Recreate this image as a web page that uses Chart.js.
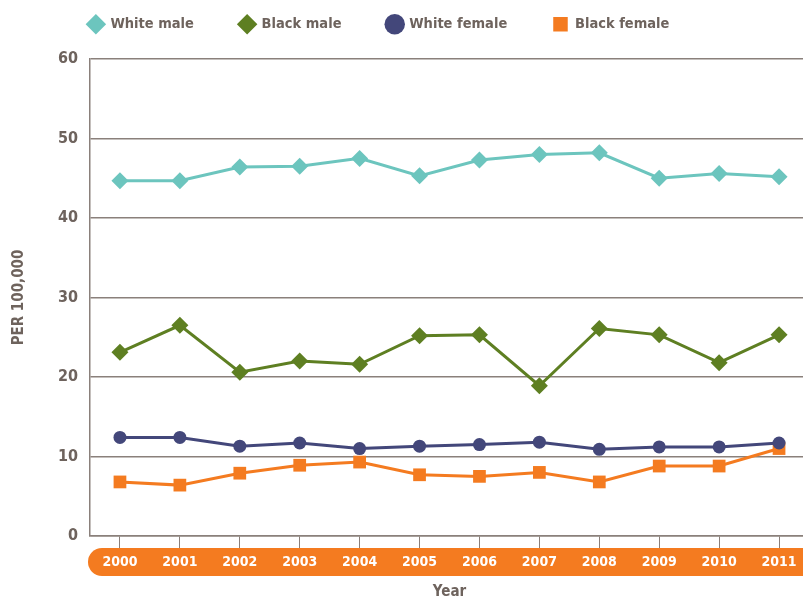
<!DOCTYPE html>
<html>
<head>
<meta charset="utf-8">
<script src="https://cdn.jsdelivr.net/npm/chart.js@4"></script>
<style>
  html, body { margin: 0; padding: 0; background: #fff; overflow: hidden; }
  #wrap { width: 818px; height: 599px; }
</style>
</head>
<body>
<div id="wrap"><canvas id="toile"></canvas></div>
<script>
const years = ['2000','2001','2002','2003','2004','2005','2006','2007','2008','2009','2010','2011']
const whiteMale   = [44.7, 44.7, 46.4, 46.5, 47.5, 45.3, 47.3, 48.0, 48.2, 45.0, 45.6, 45.2]
const blackMale   = [23.1, 26.5, 20.6, 22.0, 21.6, 25.2, 25.3, 18.9, 26.1, 25.3, 21.8, 25.3]
const whiteFemale = [12.4, 12.4, 11.3, 11.7, 11.0, 11.3, 11.5, 11.8, 10.9, 11.2, 11.2, 11.7]
const blackFemale = [6.8, 6.4, 7.9, 8.9, 9.3, 7.7, 7.5, 8.0, 6.8, 8.8, 8.8, 11.0]
const yTicks = [0, 10, 20, 30, 40, 50, 60]

const fontFam = "'Liberation Sans Narrow', 'DejaVu Sans Condensed', 'Liberation Sans', sans-serif"
const textCol = '#6e635d'
const gridCol = '#8a807b'

function serie(label, data, color, style, radius) {
  return {
    label: label,
    data: data,
    borderColor: color,
    backgroundColor: color,
    borderWidth: 3,
    pointStyle: style,
    pointRadius: radius,
    pointHoverRadius: radius,
    pointBorderWidth: 0,
    pointBackgroundColor: color,
    tension: 0
  }
}

// orange rounded band behind the year labels
const bandPlugin = {
  id: 'band',
  beforeDraw(chart) {
    const c = chart.ctx
    const x0 = chart.chartArea.left - 2
    const y0 = chart.chartArea.bottom + 12
    c.save()
    c.fillStyle = '#f47b20'
    c.beginPath()
    c.roundRect(x0, y0, chart.width - x0 + 20, 28, 14)
    c.fill()
    c.restore()
  }
}

// legend: fixed height so the plot starts lower, and shifted left
const legendFix = {
  id: 'legendFix',
  beforeLayout(chart) {
    const lg = chart.legend
    if (lg && !lg._patched) {
      const fit = lg.fit.bind(lg)
      lg.fit = function () {
        fit()
        this.height = 88
      }
      lg._patched = true
    }
  },
  afterLayout(chart) {
    chart.legend.left -= 30
    chart.legend.right -= 30
  }
}

const config = {
  type: 'line',
  data: {
    labels: years,
    datasets: [
      serie('White male', whiteMale, '#6cc5be', 'rectRot', 8.5),
      serie('Black male', blackMale, '#5e7f22', 'rectRot', 8.5),
      serie('White female', whiteFemale, '#43477a', 'circle', 6.5),
      serie('Black female', blackFemale, '#f47b20', 'rect', 9)
    ]
  },
  options: {
    responsive: true,
    maintainAspectRatio: false,
    animation: false,
    layout: { padding: { top: -29, left: 0, right: 0, bottom: 0 } },
    plugins: {
      legend: {
        display: true,
        position: 'top',
        labels: {
          usePointStyle: true,
          boxWidth: 17,
          boxHeight: 17,
          padding: 46,
          color: textCol,
          font: { family: fontFam, size: 14.5, weight: 'bold' }
        }
      },
      tooltip: { enabled: false }
    },
    scales: {
      x: {
        offset: true,
        afterFit(scale) {
          scale.height = 63
        },
        grid: {
          offset: false,
          drawOnChartArea: false,
          drawTicks: true,
          tickLength: 12,
          color: gridCol,
          lineWidth: 1
        },
        border: { display: true, color: gridCol, width: 1.5 },
        ticks: {
          color: '#ffffff',
          padding: 6,
          maxRotation: 0,
          font: { family: fontFam, size: 14, weight: 'bold' }
        },
        title: {
          display: true,
          text: 'Year',
          color: textCol,
          padding: { top: 4, bottom: -2 },
          font: { family: fontFam, size: 15, weight: 'bold' }
        }
      },
      y: {
        min: 0,
        max: 60,
        afterBuildTicks(scale) {
          scale.ticks = yTicks.map(v => ({ value: v }))
        },
        afterFit(scale) {
          scale.width = 90
        },
        grid: {
          color: gridCol,
          lineWidth: 1.5,
          drawTicks: false
        },
        border: { display: true, color: gridCol, width: 1.5 },
        ticks: {
          color: textCol,
          padding: 12,
          font: { family: fontFam, size: 16, weight: 'bold' }
        },
        title: {
          display: true,
          text: 'PER 100,000',
          color: textCol,
          padding: { top: 10, bottom: 0 },
          font: { family: fontFam, size: 15, weight: 'bold' }
        }
      }
    }
  },
  plugins: [bandPlugin, legendFix]
}

new Chart(document.getElementById('toile'), config)
</script>
</body>
</html>
